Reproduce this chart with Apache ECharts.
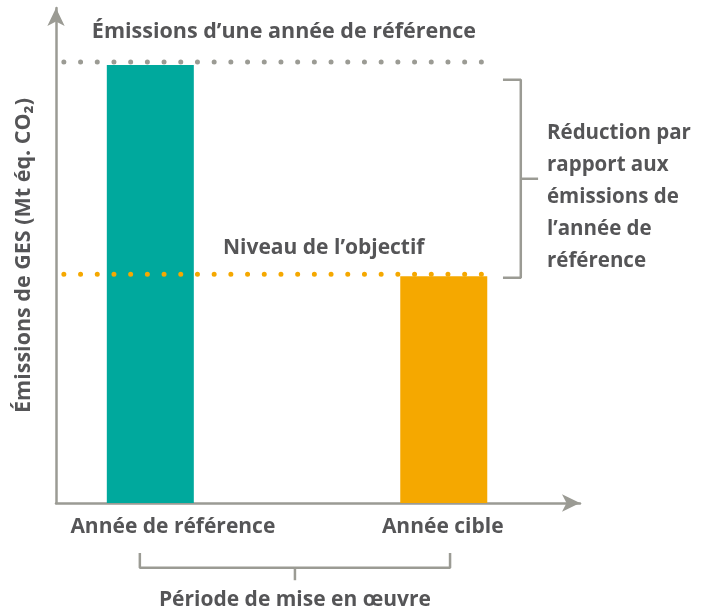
<!DOCTYPE html>
<html>
<head>
<meta charset="utf-8">
<script src="https://cdn.jsdelivr.net/npm/echarts@6/dist/echarts.min.js"></script>
<style>
  html, body { margin: 0; background: #fff; }
  #chart { width: 714px; height: 616px; }
</style>
</head>
<body>
<div id="chart"></div>
<script>
// catégories et valeurs (unités arbitraires, axe sans graduations)
const categories = ['Année de référence', 'Année cible']
const categoryX = [18, 74]
const labelX = [22.3, 73.8]
const emissions = [88.5, 45.8]
const barColors = ['#00A99D', '#F5A800']

// niveaux de référence (lignes pointillées)
const baselineLevel = 89.1
const targetLevel = 46.2
const dottedSpan = [1.5, 82.5]

// accolades
const reductionBracket = { x: [85.3, 88.7, 92], y: [85.5, 45.5] }
const periodBracket = { x: [16, 75.2], y: [-10.1, -13.1, -15.6] }

const TEXT = '#555557'
const GREY = '#9B9B94'
const FONT = '"Open Sans", sans-serif'

const chart = echarts.init(document.getElementById('chart'))

function dotted(level, color) {
  return {
    type: 'line',
    data: dottedSpan.map(x => [x, level]),
    symbol: 'none',
    silent: true,
    z: 5,
    lineStyle: { color: color, width: 5, type: [0, 16.7], cap: 'round' }
  }
}

function bracketLine(points) {
  return {
    type: 'line',
    data: points,
    symbol: 'none',
    silent: true,
    clip: false,
    lineStyle: { color: GREY, width: 2.5 }
  }
}

const rb = reductionBracket
const pb = periodBracket
const midY = (rb.y[0] + rb.y[1]) / 2
const midX = (pb.x[0] + pb.x[1]) / 2

chart.setOption({
  animation: false,
  grid: { left: 56, right: 134, top: 8, bottom: 113, outerBoundsMode: 'none' },
  xAxis: {
    type: 'value', min: 0, max: 100,
    axisLine: { show: true, symbol: ['none', 'arrow'], symbolSize: [13, 18], lineStyle: { color: GREY, width: 2.5 } },
    axisTick: { show: false }, axisLabel: { show: false }, splitLine: { show: false }
  },
  yAxis: {
    type: 'value', min: 0, max: 100,
    name: 'Émissions de GES (Mt éq. CO₂)',
    nameLocation: 'middle', nameRotate: 90, nameGap: 21,
    nameTextStyle: { color: TEXT, fontSize: 21.5, fontWeight: 'bold', fontFamily: FONT },
    axisLine: { show: true, symbol: ['none', 'arrow'], symbolSize: [13, 18], lineStyle: { color: GREY, width: 2.5 } },
    axisTick: { show: false }, axisLabel: { show: false }, splitLine: { show: false }
  },
  series: [
    {
      type: 'bar',
      barWidth: 87,
      silent: true,
      data: categories.map((c, i) => ({
        name: c,
        value: [categoryX[i], emissions[i]],
        itemStyle: { color: barColors[i] }
      }))
    },
    dotted(baselineLevel, '#9B9B94'),
    dotted(targetLevel, '#F5A800'),
    bracketLine([[rb.x[0], rb.y[0]], [rb.x[1], rb.y[0]], [rb.x[1], rb.y[1]], [rb.x[0], rb.y[1]]]),
    bracketLine([[rb.x[1], midY], [rb.x[2], midY]]),
    bracketLine([[pb.x[0], pb.y[0]], [pb.x[0], pb.y[1]], [pb.x[1], pb.y[1]], [pb.x[1], pb.y[0]]]),
    bracketLine([[midX, pb.y[1]], [midX, pb.y[2]]])
  ]
})

// libellés placés dans le repère du graphique
function px(x, y) { return chart.convertToPixel({ gridIndex: 0 }, [x, y]) }
function label(x, y, text, align, vAlign, size, extra) {
  const p = px(x, y)
  return {
    type: 'text', x: p[0], y: p[1], silent: true,
    style: Object.assign({
      text: text, fill: TEXT, font: 'bold ' + size + 'px ' + FONT,
      align: align, verticalAlign: vAlign
    }, extra || {})
  }
}

const texts = [
  label(43.5, 95.2, 'Émissions d’une année de référence', 'center', 'middle', 21.5),
  label(51.1, 51.5, 'Niveau de l’objectif', 'center', 'middle', 21),
  label(midX, -19.6, 'Période de mise en œuvre', 'center', 'middle', 21),
  label(93.7, 61.8, 'Réduction par\nrapport aux\némissions de\nl’année de\nréférence', 'left', 'middle', 20.5, { lineHeight: 32 })
]
categories.forEach((c, i) => texts.push(label(labelX[i], -4.85, c, 'center', 'middle', 21)))

chart.setOption({ graphic: texts })
</script>
</body>
</html>
